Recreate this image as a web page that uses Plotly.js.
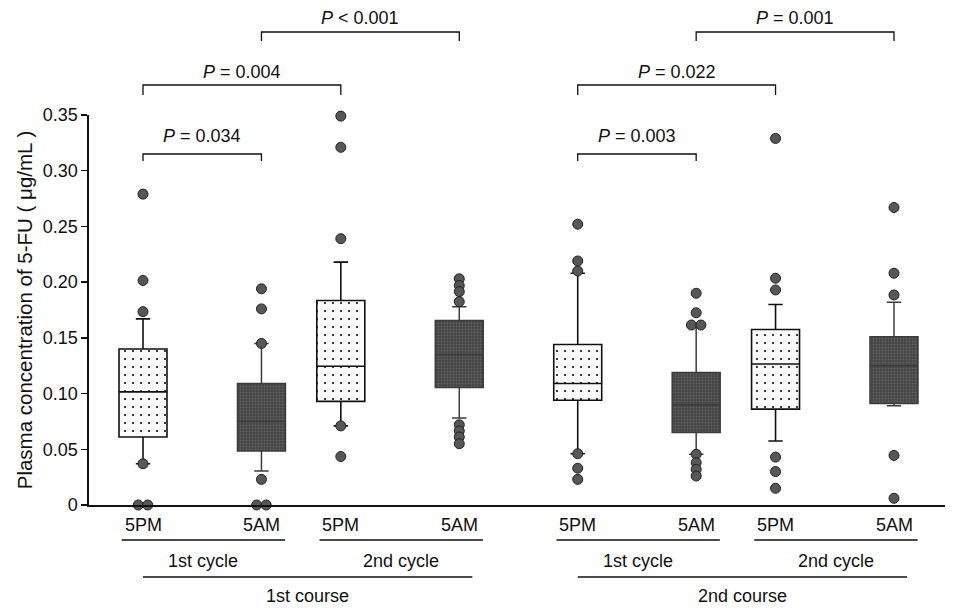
<!DOCTYPE html>
<html><head><meta charset="utf-8">
<script src="https://cdn.plot.ly/plotly-3.0.1.min.js"></script>
<style>html,body{margin:0;padding:0;background:#fff}#chart{width:955px;height:610px}</style>
</head><body><div id="chart"></div>
<script>
// ---- data ----
const timeLabels = ['5PM','5AM','5PM','5AM','5PM','5AM','5PM','5AM'];
const cycleLabels = ['1st cycle','2nd cycle','1st cycle','2nd cycle'];
const courseLabels = ['1st course','2nd course'];
const q1 =           [0.061, 0.0485, 0.093, 0.1055, 0.094, 0.065, 0.086, 0.091];
const median =       [0.1015, 0.075, 0.1245, 0.135, 0.109, 0.090, 0.1265, 0.125];
const q3 =           [0.140, 0.109, 0.1835, 0.1655, 0.144, 0.119, 0.1575, 0.151];
const lowerWhisker = [0.037, 0.0305, 0.071, 0.078, 0.046, 0.0455, 0.0575, 0.089];
const upperWhisker = [0.167, 0.145, 0.218, 0.178, 0.208, 0.1615, 0.180, 0.182];
const outliers = [
  [0.279, 0.2015, 0.1735, 0.037, 0, 0],
  [0.194, 0.176, 0.145, 0.023, 0, 0],
  [0.349, 0.321, 0.239, 0.071, 0.0435],
  [0.203, 0.197, 0.1915, 0.1825, 0.072, 0.0665, 0.061, 0.055],
  [0.252, 0.219, 0.210, 0.046, 0.033, 0.023],
  [0.190, 0.1725, 0.1615, 0.1615, 0.0455, 0.038, 0.032, 0.026],
  [0.329, 0.2035, 0.193, 0.043, 0.030, 0.015],
  [0.267, 0.208, 0.1885, 0.0445, 0.006]
];
const pLabels = ['<i>P</i> = 0.034', '<i>P</i> = 0.004', '<i>P</i> &lt; 0.001',
                 '<i>P</i> = 0.003', '<i>P</i> = 0.022', '<i>P</i> = 0.001'];
const pPairs = [[0,1],[0,2],[1,3],[4,5],[4,6],[5,7]];
const yTicks = [0, 0.05, 0.10, 0.15, 0.20, 0.25, 0.30, 0.35];
const yTickText = ['0','0.05','0.10','0.15','0.20','0.25','0.30','0.35'];

// ---- layout helpers ----
const stepAfter = [1, 0.67, 1, 1, 1, 0.67, 1];   // spacing between box slots
const pos = [0];
stepAfter.forEach(s => pos.push(+(pos[pos.length-1] + s).toFixed(3)));
const unitPx = 118.45;
const plotTop = 115, plotBottom = 505, plotH = plotBottom - plotTop;
const py = px => (plotBottom - px) / plotH;           // pixel row -> paper y
const BOXW = 0.405;
const FONT = 'Liberation Sans, Arial, sans-serif';
const dotted = [0,2,4,6], dark = [1,3,5,7];
const pick = (arr, idx) => idx.map(i => arr[i]);

const traces = [];
traces.push({
  type:'bar', x: pick(pos,dotted), y: dotted.map(i=>q3[i]-q1[i]), base: pick(q1,dotted),
  width: BOXW, hoverinfo:'skip', showlegend:false,
  marker:{color:'white', line:{width:0},
    pattern:{shape:'.', fgcolor:'#111', bgcolor:'white', size:8, solidity:0.06}}
});
traces.push({
  type:'bar', x: pick(pos,dark), y: dark.map(i=>q3[i]-q1[i]), base: pick(q1,dark),
  width: BOXW, hoverinfo:'skip', showlegend:false,
  marker:{color:'#4a4a4a', line:{width:0},
    pattern:{shape:'.', fgcolor:'#626262', bgcolor:'#454545', size:3, solidity:0.3}}
});
traces.push({
  type:'box', x: pick(pos,dotted), q1: pick(q1,dotted), median: pick(median,dotted), q3: pick(q3,dotted),
  lowerfence: pick(lowerWhisker,dotted), upperfence: pick(upperWhisker,dotted),
  width: BOXW, whiskerwidth: 0.3, boxpoints:false,
  fillcolor:'rgba(0,0,0,0)', line:{color:'#111', width:1.6}, showlegend:false
});
traces.push({
  type:'box', x: pick(pos,dark), q1: pick(q1,dark), median: pick(median,dark), q3: pick(q3,dark),
  lowerfence: pick(lowerWhisker,dark), upperfence: pick(upperWhisker,dark),
  width: BOXW, whiskerwidth: 0.3, boxpoints:false,
  fillcolor:'rgba(0,0,0,0)', line:{color:'#3c3c3c', width:1.5}, showlegend:false
});
const ox = [], oy = [];
outliers.forEach((vals, g) => {
  const seen = {};
  vals.forEach(v => {
    const dup = vals.filter(w => w === v).length > 1;
    let off = 0;
    if (dup) { seen[v] = (seen[v]||0) + 1; off = seen[v] === 1 ? -0.04 : 0.04; }
    ox.push(pos[g] + off); oy.push(v);
  });
});
traces.push({
  type:'scatter', mode:'markers', x: ox, y: oy, cliponaxis:false, showlegend:false,
  marker:{size:10, color:'#575757', line:{color:'#222', width:1}}
});

// ---- annotations & shapes ----
const annotations = [], shapes = [];
const txt = (x, ypx, text, size) => ({xref:'x', yref:'paper', x:x, y:py(ypx), text:text,
  xanchor:'center', yanchor:'middle', showarrow:false, font:{family:FONT, size:size, color:'#111'}});
const bracketLevels = [ // [text y px, line y px, tick end px]
  [136, 154, 161], [72, 85, 95], [18, 32, 41]
];
pPairs.forEach((pr, k) => {
  const lvl = bracketLevels[k % 3];
  const x0 = pos[pr[0]], x1 = pos[pr[1]];
  shapes.push({type:'path', xref:'x', yref:'paper',
    path:`M${x0},${py(lvl[2])} L${x0},${py(lvl[1])} L${x1},${py(lvl[1])} L${x1},${py(lvl[2])}`,
    line:{color:'#111', width:1.3}});
  annotations.push(txt((x0+x1)/2, lvl[0], pLabels[k], 18));
});
pos.forEach((p, i) => annotations.push(txt(p, 525, timeLabels[i], 18)));
cycleLabels.forEach((t, c) => {
  const a = pos[2*c], b = pos[2*c+1];
  shapes.push({type:'line', xref:'x', yref:'paper', x0:a-0.18, x1:b+0.2, y0:py(540), y1:py(540),
    line:{color:'#111', width:1.3}});
  annotations.push(txt((a+b)/2 + 0.01, 561, t, 18));
});
courseLabels.forEach((t, c) => {
  const a = pos[4*c], b = pos[4*c+3] + 0.11;
  shapes.push({type:'line', xref:'x', yref:'paper', x0:a, x1:b, y0:py(577), y1:py(577),
    line:{color:'#111', width:1.3}});
  annotations.push(txt((a+b)/2, 596, t, 18));
});

const layout = {
  width:955, height:610, paper_bgcolor:'white', plot_bgcolor:'white',
  margin:{l:89, r:10, t:plotTop, b:610-plotBottom},
  barmode:'overlay', showlegend:false,
  font:{family:FONT, color:'#111'},
  xaxis:{range:[pos[0]-54/unitPx, pos[7]+51/unitPx], showline:true, linecolor:'#111', linewidth:1.6,
    showgrid:false, zeroline:false, showticklabels:false, ticks:''},
  yaxis:{range:[0,0.35], tickvals:yTicks, ticktext:yTickText, ticks:'outside', ticklen:6, tickwidth:1.4,
    tickcolor:'#111', showline:true, linecolor:'#111', linewidth:1.6, showgrid:false, zeroline:false,
    tickfont:{family:FONT, size:18, color:'#111'},
    title:{text:'Plasma concentration of 5-FU ( μg/mL )', font:{family:FONT, size:20.5, color:'#111'}, standoff:4}},
  annotations: annotations, shapes: shapes
};
Plotly.newPlot('chart', traces, layout, {displayModeBar:false, staticPlot:true});
</script>
</body></html>
